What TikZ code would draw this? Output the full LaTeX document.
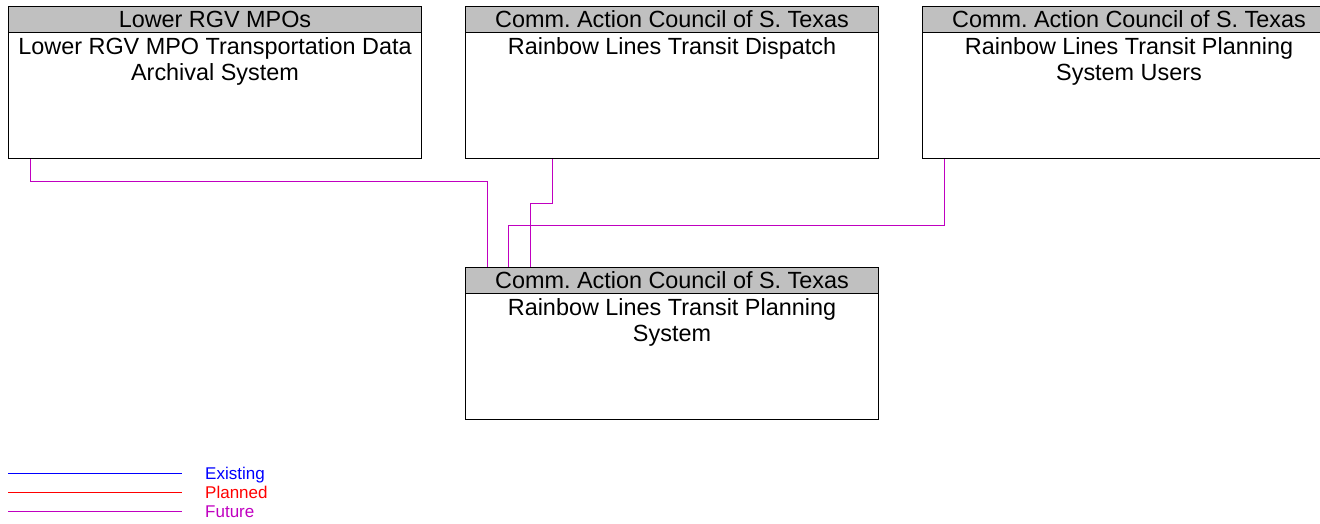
\documentclass[tikz,border=0pt]{standalone}
\usepackage{fontspec}
\setmainfont{Liberation Sans}
\usetikzlibrary{positioning}
\definecolor{hdrgray}{RGB}{192,192,192}
\definecolor{futurecol}{RGB}{192,0,192}
\frenchspacing

\begin{document}
\begin{tikzpicture}[x=1pt, y=-1pt, font=\fontsize{23.4}{26}\selectfont,
  sysbox/.style={draw, line width=1pt, minimum width=413pt, minimum height=152pt, inner sep=0pt, anchor=north west},
  hdr/.style={draw, line width=1pt, fill=hdrgray, minimum width=413pt, minimum height=26pt, inner sep=0pt, anchor=north},
  bodytxt/.style={align=center, inner sep=0pt},
  future/.style={futurecol, line width=1pt},
  legtext/.style={font=\fontsize{17}{20}\selectfont, anchor=base west, inner sep=0pt}]
\useasboundingbox (0,0) rectangle (1320,523);

% systems
\node[sysbox] (archive) at (8,6) {};
\node[hdr] (archivehdr) at (archive.north) {Lower RGV MPOs};
\node[bodytxt, below=4.5pt of archivehdr] (archivetxt) {Lower RGV MPO Transportation Data\\Archival System};

\node[sysbox] (dispatch) at (465,6) {};
\node[hdr] (dispatchhdr) at (dispatch.north) {Comm. Action Council of S. Texas};
\node[bodytxt, below=4.5pt of dispatchhdr] (dispatchtxt) {Rainbow Lines Transit Dispatch};

\node[sysbox] (users) at (922,6) {};
\node[hdr] (usershdr) at (users.north) {Comm. Action Council of S. Texas};
\node[bodytxt, below=4.5pt of usershdr] (userstxt) {Rainbow Lines Transit Planning\\System Users};

\node[sysbox] (planning) at (465,267) {};
\node[hdr] (planninghdr) at (planning.north) {Comm. Action Council of S. Texas};
\node[bodytxt, below=4.5pt of planninghdr] (planningtxt) {Rainbow Lines Transit Planning\\System};

% flows
\draw[future] ([xshift=22pt]archive.south west) -- ++(0,22) -| ([xshift=22pt]planninghdr.north west);
\draw[future] ([xshift=87pt]dispatch.south west) -- ++(0,44) -| ([xshift=65pt]planninghdr.north west);
\draw[future] ([xshift=22pt]users.south west) -- ++(0,66) -| ([xshift=43pt]planninghdr.north west);

% legend
\draw[blue, line width=1pt] (8,473) -- (182,473);
\draw[red, line width=1pt] (8,492) -- (182,492);
\draw[future] (8,511) -- (182,511);
\node[legtext, text=blue] (existing) at (205,479) {Existing};
\node[legtext, text=red] (planned) at (205,498) {Planned};
\node[legtext, text=futurecol] (futuretxt) at (205,517) {Future};
\end{tikzpicture}
\end{document}
